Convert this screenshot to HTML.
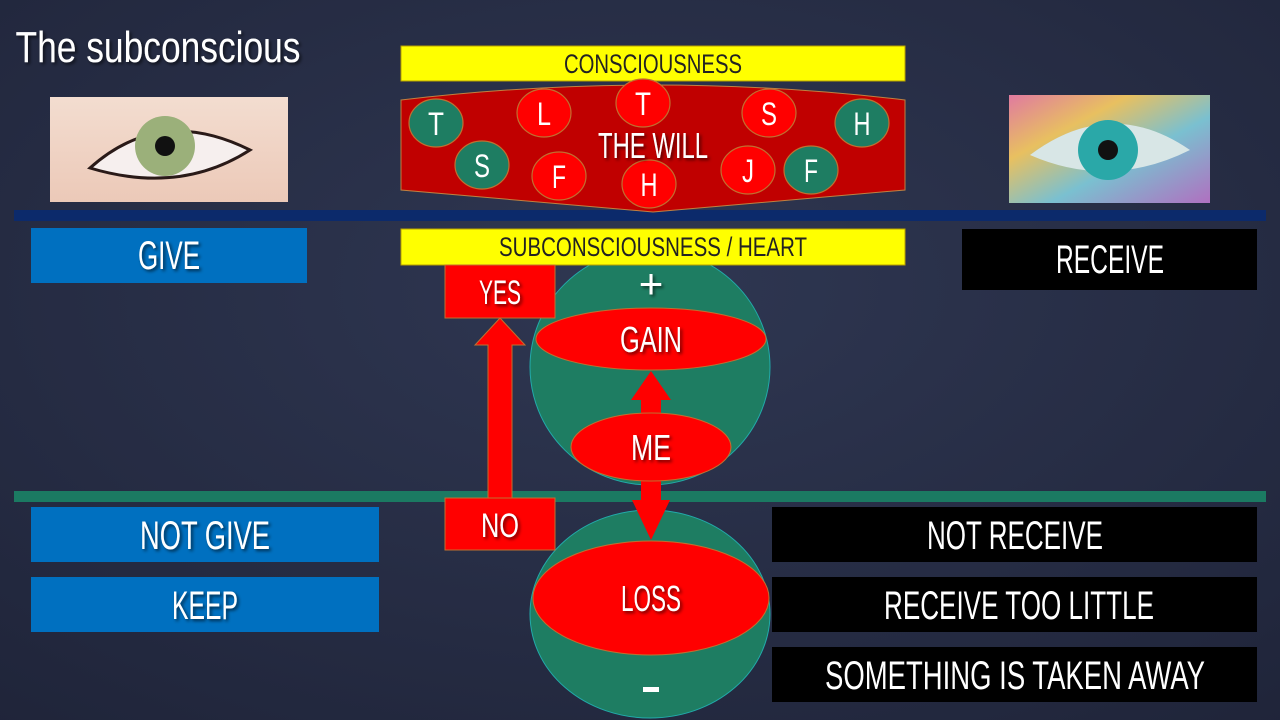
<!DOCTYPE html>
<html><head><meta charset="utf-8"><style>
html,body{margin:0;padding:0;width:1280px;height:720px;overflow:hidden;background:#262d45}
svg{display:block}
text{font-family:"Liberation Sans Narrow","Liberation Sans",sans-serif;fill:#fff;text-anchor:middle}
</style></head><body>
<svg width="1280" height="720" viewBox="0 0 1280 720" xmlns="http://www.w3.org/2000/svg">
<defs>
<radialGradient id="bg" cx="0.5" cy="0.4" r="0.8">
<stop offset="0" stop-color="#2f3752"/><stop offset="1" stop-color="#1f2439"/></radialGradient>
<linearGradient id="skin" x1="0" y1="0" x2="0" y2="1"><stop offset="0" stop-color="#f3ddd0"/><stop offset="1" stop-color="#ecc9b8"/></linearGradient>
<linearGradient id="rain" x1="0" y1="0" x2="1" y2="1"><stop offset="0" stop-color="#e07aa0"/><stop offset="0.3" stop-color="#e8c060"/><stop offset="0.6" stop-color="#7ac0d0"/><stop offset="1" stop-color="#b070c0"/></linearGradient>
<filter id="sh"><feDropShadow dx="2" dy="2" stdDeviation="1.5" flood-color="#000" flood-opacity="0.6"/></filter>
</defs>
<rect width="1280" height="720" fill="url(#bg)"/>
<text x="158" y="62" font-size="44" textLength="285" lengthAdjust="spacingAndGlyphs" filter="url(#sh)">The subconscious</text>
<rect x="50" y="97" width="238" height="105" fill="url(#skin)"/>
<path d="M90 168 Q160 105 250 150 Q180 195 90 168Z" fill="#f6efee" stroke="#2a1a18" stroke-width="3"/>
<circle cx="165" cy="146" r="30" fill="#9bb07a"/>
<circle cx="165" cy="146" r="10" fill="#111"/>
<rect x="1009" y="95" width="201" height="108" fill="url(#rain)"/>
<path d="M1030 155 Q1110 95 1190 150 Q1110 190 1030 155Z" fill="#d8e6e6"/>
<circle cx="1108" cy="150" r="30" fill="#2aa8a8"/>
<circle cx="1108" cy="150" r="10" fill="#111"/>
<rect x="14" y="210" width="1252" height="11" fill="#0c2a6b"/>
<rect x="14" y="491" width="1252" height="11" fill="#1b7a62"/>
<rect x="401" y="46" width="504" height="35" fill="#ffff00" stroke="#b8a000" stroke-width="1"/>
<text x="653" y="73" font-size="27" style="fill:#222" textLength="178" lengthAdjust="spacingAndGlyphs">CONSCIOUSNESS</text>
<path d="M401 100 Q653 70 905 100 L905 190 L653 212 L401 190Z" fill="#c00000" stroke="#c08040" stroke-width="1"/>
<g stroke="#c07030" stroke-width="1.2">
<ellipse cx="436" cy="123" rx="27" ry="24" fill="#1e7d62"/>
<ellipse cx="482" cy="165" rx="27" ry="24" fill="#1e7d62"/>
<ellipse cx="544" cy="113" rx="27" ry="24" fill="#ff0000"/>
<ellipse cx="559" cy="176" rx="27" ry="24" fill="#ff0000"/>
<ellipse cx="643" cy="103" rx="27" ry="24" fill="#ff0000"/>
<ellipse cx="649" cy="184" rx="27" ry="24" fill="#ff0000"/>
<ellipse cx="769" cy="113" rx="27" ry="24" fill="#ff0000"/>
<ellipse cx="748" cy="170" rx="27" ry="24" fill="#ff0000"/>
<ellipse cx="811" cy="170" rx="27" ry="24" fill="#1e7d62"/>
<ellipse cx="862" cy="123" rx="27" ry="24" fill="#1e7d62"/>
</g>
<g font-size="32">
<text x="436" y="135" textLength="16" lengthAdjust="spacingAndGlyphs">T</text><text x="482" y="177" textLength="16" lengthAdjust="spacingAndGlyphs">S</text><text x="544" y="125" textLength="14" lengthAdjust="spacingAndGlyphs">L</text><text x="559" y="188" textLength="14" lengthAdjust="spacingAndGlyphs">F</text>
<text x="643" y="115" textLength="16" lengthAdjust="spacingAndGlyphs">T</text><text x="649" y="196" textLength="17" lengthAdjust="spacingAndGlyphs">H</text><text x="769" y="125" textLength="16" lengthAdjust="spacingAndGlyphs">S</text><text x="748" y="182" textLength="12" lengthAdjust="spacingAndGlyphs">J</text>
<text x="811" y="182" textLength="14" lengthAdjust="spacingAndGlyphs">F</text><text x="862" y="135" textLength="17" lengthAdjust="spacingAndGlyphs">H</text>
</g>
<text x="653" y="158" font-size="36" textLength="110" lengthAdjust="spacingAndGlyphs" filter="url(#sh)">THE WILL</text>
<rect x="31" y="228" width="276" height="55" fill="#0070c0"/>
<text x="169" y="269" font-size="40" textLength="62" lengthAdjust="spacingAndGlyphs" filter="url(#sh)">GIVE</text>
<rect x="962" y="229" width="295" height="61" fill="#000"/>
<text x="1110" y="273" font-size="40" textLength="108" lengthAdjust="spacingAndGlyphs">RECEIVE</text>
<rect x="31" y="507" width="348" height="55" fill="#0070c0"/>
<text x="205" y="549" font-size="40" textLength="130" lengthAdjust="spacingAndGlyphs" filter="url(#sh)">NOT GIVE</text>
<rect x="31" y="577" width="348" height="55" fill="#0070c0"/>
<text x="205" y="619" font-size="40" textLength="66" lengthAdjust="spacingAndGlyphs" filter="url(#sh)">KEEP</text>
<rect x="772" y="507" width="485" height="55" fill="#000"/>
<text x="1015" y="549" font-size="40" textLength="176" lengthAdjust="spacingAndGlyphs">NOT RECEIVE</text>
<rect x="772" y="577" width="485" height="55" fill="#000"/>
<text x="1019" y="619" font-size="40" textLength="270" lengthAdjust="spacingAndGlyphs">RECEIVE TOO LITTLE</text>
<rect x="772" y="647" width="485" height="55" fill="#000"/>
<text x="1015" y="689" font-size="40" textLength="380" lengthAdjust="spacingAndGlyphs">SOMETHING IS TAKEN AWAY</text>
<ellipse cx="650" cy="367" rx="120" ry="118" fill="#1e7d62" stroke="#2aa" stroke-width="1"/>
<ellipse cx="650" cy="614" rx="120" ry="104" fill="#1e7d62" stroke="#2aa" stroke-width="1"/>
<rect x="401" y="229" width="504" height="36" fill="#ffff00" stroke="#b8a000" stroke-width="1"/>
<text x="653" y="256" font-size="27" style="fill:#222" textLength="308" lengthAdjust="spacingAndGlyphs">SUBCONSCIOUSNESS / HEART</text>
<rect x="445" y="265" width="110" height="53" fill="#ff0000" stroke="#c07030"/>
<text x="500" y="304" font-size="34" textLength="42" lengthAdjust="spacingAndGlyphs" filter="url(#sh)">YES</text>
<rect x="445" y="498" width="110" height="52" fill="#ff0000" stroke="#c07030"/>
<text x="500" y="537" font-size="34" textLength="38" lengthAdjust="spacingAndGlyphs" filter="url(#sh)">NO</text>
<path d="M488 498 L488 345 L475 345 L500 318 L525 345 L512 345 L512 498Z" fill="#ff0000" stroke="#c07030" stroke-width="1"/>
<path d="M641 420 L641 400 L631 400 L651 371 L671 400 L661 400 L661 420Z" fill="#ff0000"/>
<path d="M641 475 L641 500 L632 500 L651 540 L670 500 L661 500 L661 475Z" fill="#ff0000"/>
<ellipse cx="651" cy="339" rx="115" ry="31" fill="#ff0000" stroke="#c07030"/>
<text x="651" y="352" font-size="36" textLength="62" lengthAdjust="spacingAndGlyphs" filter="url(#sh)">GAIN</text>
<ellipse cx="651" cy="447" rx="80" ry="34" fill="#ff0000" stroke="#c07030"/>
<text x="651" y="460" font-size="36" textLength="40" lengthAdjust="spacingAndGlyphs" filter="url(#sh)">ME</text>
<ellipse cx="651" cy="598" rx="118" ry="57" fill="#ff0000" stroke="#c07030"/>
<text x="651" y="611" font-size="36" textLength="60" lengthAdjust="spacingAndGlyphs" filter="url(#sh)">LOSS</text>
<text x="651" y="298" font-size="42" filter="url(#sh)">+</text>
<rect x="643" y="687" width="16" height="5" fill="#fff"/>
</svg>
</body></html>
